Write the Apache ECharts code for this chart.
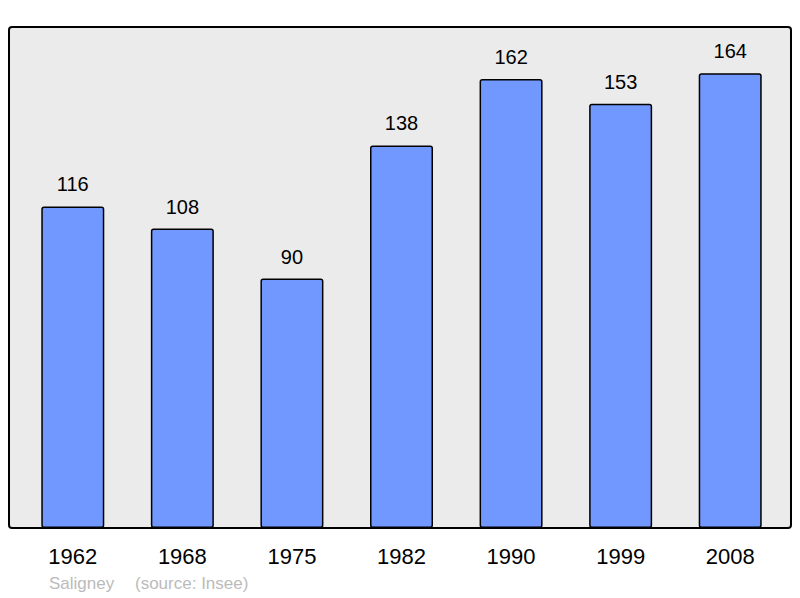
<!DOCTYPE html>
<html><head><meta charset="utf-8">
<script src="https://cdn.jsdelivr.net/npm/echarts@6/dist/echarts.min.js"></script>
<style>html,body{margin:0;padding:0;background:#fff}#c{width:800px;height:598px}</style>
</head><body><div id="c"></div>
<script>
const years = ['1962','1968','1975','1982','1990','1999','2008'];
const population = [116,108,90,138,162,153,164];
const footerName = 'Saligney';
const footerSource = '(source: Insee)';

const chart = echarts.init(document.getElementById('c'), null, {renderer:'svg'});
chart.setOption({
  animation:false,
  backgroundColor:'#ffffff',
  graphic:[
    {type:'rect', z:-10, shape:{x:9, y:27, width:782, height:501, r:3},
     style:{fill:'#ebebeb', stroke:'#000', lineWidth:2}},
    {type:'text', left:49, top:575, style:{text:footerName, fill:'#bbbbbb', font:'17px "Liberation Sans", Arial, sans-serif'}},
    {type:'text', left:135, top:575, style:{text:footerSource, fill:'#bbbbbb', font:'17px "Liberation Sans", Arial, sans-serif'}}
  ],
  grid:{left:18, right:15, top:29, bottom:70},
  xAxis:{type:'category', data:years,
    axisLine:{show:false}, axisTick:{show:false},
    axisLabel:{color:'#000', fontSize:22, fontFamily:'Liberation Sans, Arial, sans-serif', margin:17}},
  yAxis:{type:'value', min:0, max:180, show:false, splitLine:{show:false}},
  series:[{type:'bar', data:population, barWidth:63,
    itemStyle:{color:'#7098ff', borderColor:'#000', borderWidth:1.5, borderRadius:2},
    label:{show:true, position:'top', distance:12, color:'#000', fontSize:20, fontFamily:'Liberation Sans, Arial, sans-serif'}}]
});
</script></body></html>
